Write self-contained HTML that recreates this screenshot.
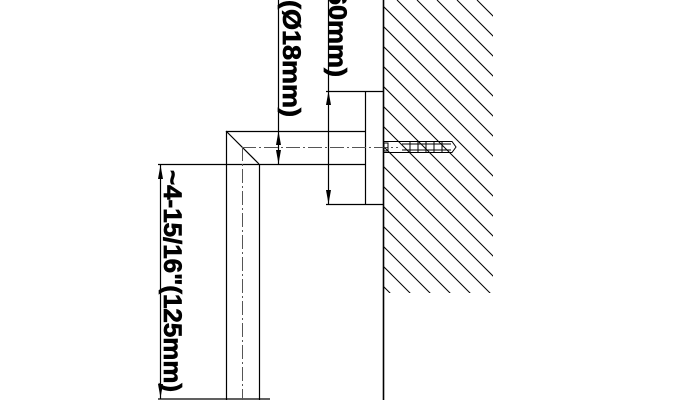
<!DOCTYPE html>
<html><head><meta charset="utf-8"><style>html,body{margin:0;padding:0;background:#fff;}svg{display:block}
.t{font-family:"Liberation Sans",Arial,sans-serif;font-weight:bold;font-size:25px;fill:#000;stroke:#000;stroke-width:0.7;}</style></head>
<body>
<svg width="676" height="400" viewBox="0 0 676 400" xmlns="http://www.w3.org/2000/svg">
<defs>
<clipPath id="hc"><rect x="383" y="0" width="110" height="293"/></clipPath>
</defs>
<rect width="676" height="400" fill="#fff"/>
<g clip-path="url(#hc)" stroke="#000" stroke-width="1">
<line x1="17" y1="0" x2="317" y2="300"/>
<line x1="37" y1="0" x2="337" y2="300"/>
<line x1="57" y1="0" x2="357" y2="300"/>
<line x1="77" y1="0" x2="377" y2="300"/>
<line x1="97" y1="0" x2="397" y2="300"/>
<line x1="117" y1="0" x2="417" y2="300"/>
<line x1="137" y1="0" x2="437" y2="300"/>
<line x1="157" y1="0" x2="457" y2="300"/>
<line x1="177" y1="0" x2="477" y2="300"/>
<line x1="197" y1="0" x2="497" y2="300"/>
<line x1="217" y1="0" x2="517" y2="300"/>
<line x1="237" y1="0" x2="537" y2="300"/>
<line x1="257" y1="0" x2="557" y2="300"/>
<line x1="277" y1="0" x2="577" y2="300"/>
<line x1="297" y1="0" x2="597" y2="300"/>
<line x1="317" y1="0" x2="617" y2="300"/>
<line x1="337" y1="0" x2="637" y2="300"/>
<line x1="357" y1="0" x2="657" y2="300"/>
<line x1="377" y1="0" x2="677" y2="300"/>
<line x1="397" y1="0" x2="697" y2="300"/>
<line x1="417" y1="0" x2="717" y2="300"/>
<line x1="437" y1="0" x2="737" y2="300"/>
<line x1="457" y1="0" x2="757" y2="300"/>
<line x1="477" y1="0" x2="777" y2="300"/>
</g>
<g stroke="#000" stroke-width="1.2" fill="none">
<line x1="383.5" y1="0" x2="383.5" y2="400" stroke-width="1.6"/>
<line x1="326" y1="91.5" x2="383" y2="91.5"/>
<line x1="326" y1="204.5" x2="383" y2="204.5"/>
<line x1="365.5" y1="91" x2="365.5" y2="204"/>
<line x1="226" y1="131.5" x2="365" y2="131.5"/>
<line x1="158" y1="164.5" x2="365" y2="164.5"/>
<line x1="226.5" y1="131" x2="226.5" y2="400"/>
<line x1="259.5" y1="164" x2="259.5" y2="400"/>
<line x1="226" y1="131" x2="259" y2="164"/>
<line x1="158" y1="399" x2="270" y2="399"/>
<line x1="278.5" y1="0" x2="278.5" y2="164"/>
<line x1="328.5" y1="0" x2="328.5" y2="204"/>
<line x1="160.5" y1="165" x2="160.5" y2="399"/>
</g>
<g stroke="#555" stroke-width="1" fill="none" stroke-dasharray="14,3,2,3">
<line x1="242" y1="147.5" x2="398" y2="147.5"/>
<line x1="242.5" y1="147" x2="242.5" y2="400"/>
</g>
<g fill="#000">
<polygon points="278.5,131 276,145 281,145"/>
<polygon points="278.5,164 276,150 281,150"/>
<polygon points="328.5,91 326,105 331,105"/>
<polygon points="328.5,204 326,190 331,190"/>
<polygon points="160.5,165 158,179 163,179"/>
<polygon points="160.5,398 158,384 163,384"/>
</g>
<g stroke="#000" stroke-width="1" fill="none">
<path d="M383,141.5 H452 L456,147 L452,152.5 H383"/>
<line x1="402" y1="144" x2="451" y2="144"/>
<line x1="402" y1="150" x2="451" y2="150"/>
<line x1="410" y1="141" x2="410" y2="153"/>
<line x1="418" y1="141" x2="418" y2="153"/>
<line x1="426" y1="141" x2="426" y2="153"/>
<line x1="434" y1="141" x2="434" y2="153"/>
<line x1="442" y1="141" x2="442" y2="153"/>
<rect x="384" y="143" width="4" height="8"/>
</g>
<text class="t" transform="translate(164,170) rotate(90)" textLength="222" lengthAdjust="spacingAndGlyphs">~4-15/16"(125mm)</text>
<text class="t" transform="translate(283,117) rotate(90) scale(1.08,1)" text-anchor="end">3/4"(Ø18mm)</text>
<text class="t" transform="translate(329,77) rotate(90) scale(1.08,1)" text-anchor="end">2-3/8"(60mm)</text>
</svg>
</body></html>
